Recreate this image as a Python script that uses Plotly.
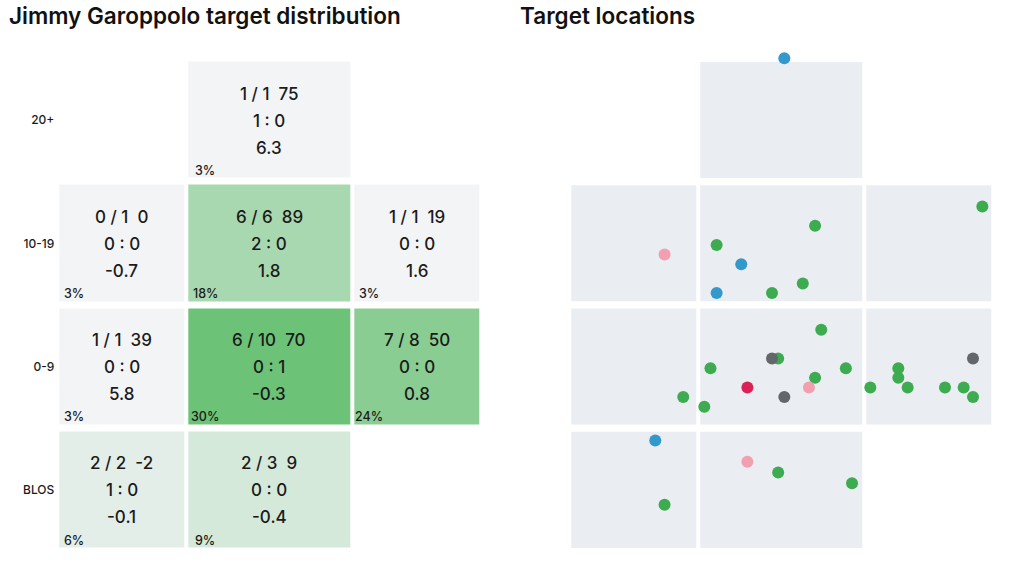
import plotly.graph_objects as go

# ---------------- data ----------------
ROW_LABELS = ["BLOS", "0-9", "10-19", "20+"]          # bottom -> top
# one entry per populated zone
cell_row = ["20+", "10-19", "10-19", "10-19", "0-9", "0-9", "0-9", "BLOS", "BLOS"]
cell_col = [1, 0, 1, 2, 0, 1, 2, 0, 1]                # 0 left, 1 middle, 2 right
completions = [1, 0, 6, 1, 1, 6, 7, 2, 2]
attempts = [1, 1, 6, 1, 1, 10, 8, 2, 3]
yards = [75, 0, 89, 19, 39, 70, 50, -2, 9]
tds = [1, 0, 2, 0, 0, 0, 0, 1, 0]
ints = [0, 0, 0, 0, 0, 1, 0, 0, 0]
epa = [6.3, -0.7, 1.8, 1.6, 5.8, -0.3, 0.8, -0.1, -0.4]
share_pct = [3, 3, 18, 3, 3, 30, 24, 6, 9]

# target locations: yards from left sideline, air yards, outcome
target_x = [27,
            10, 32, 16, 20, 16, 25, 30, 53,
            33, 25, 26, 15, 37, 32, 21, 31, 27, 12, 14, 41, 44, 44, 45, 49, 51, 52, 52,
            9, 10, 21, 26, 38]
target_y = [31.6,
            14, 17, 15, 13, 10, 10, 11, 19,
            9, 6, 6, 5, 5, 4, 3, 3, 2, 2, 1, 3, 5, 4, 3, 3, 3, 2, 6,
            -1, -7, -3, -4, -5]
target_outcome = ["td",
                  "inc", "comp", "comp", "td", "td", "comp", "comp", "comp",
                  "comp", "def", "comp", "comp", "comp", "comp", "int", "inc", "def",
                  "comp", "comp", "comp", "comp", "comp", "comp", "comp", "comp", "comp", "def",
                  "td", "comp", "inc", "comp", "comp"]

OUTCOME_COLORS = {"comp": "#3dab50", "td": "#3399cc", "inc": "#f2a0b0",
                  "def": "#63666b", "int": "#dc1f55"}
OUTCOME_ORDER = ["comp", "td", "inc", "def", "int"]

# zone boundaries (field width in yards, air yards)
X_BOUNDS = [13.33, 40]
Y_BOUNDS = [0, 10, 20]

# ---------------- layout geometry ----------------
W, H = 1024, 585
COL_PX = [129, 166, 129]
ROW_PX = 123.25
GRID_TOP = 58.5
LEFT_X0 = 57.3
RIGHT_X0 = 569.3
XGAP, YGAP = 4, 7
TOP_PAD = 10            # extra room above each location panel for overflowing dots
X_RANGES = [(0, 13.4), (13.35, 39.67), (40.57, 53.96)]
Y_RANGES = [(-11.05, -0.19), (-0.88, 11.2), (9.12, 21.2), (19.12, 31.2)]
FONT = "Inter"
TEXT_COLOR = "#1b1b1b"

xedges = [0]
for w in COL_PX:
    xedges.append(xedges[-1] + w)
ncols = len(COL_PX)
nrows = len(ROW_LABELS)

fig = go.Figure()

# ---- left: distribution heatmap ----
z = [[None] * ncols for _ in range(nrows)]
for r, c, p in zip(cell_row, cell_col, share_pct):
    z[ROW_LABELS.index(r)][c] = p

fig.add_trace(go.Heatmap(
    z=z, x=xedges, y=list(range(nrows + 1)),
    xgap=XGAP, ygap=YGAP, zmin=3, zmax=30,
    colorscale=[[0, "#f3f4f6"], [1, "#6cc276"]],
    showscale=False, hoverinfo="skip", xaxis="x", yaxis="y"))

grid_h = ROW_PX * nrows
fig.update_layout(
    xaxis=dict(domain=[LEFT_X0 / W, (LEFT_X0 + xedges[-1]) / W], range=[0, xedges[-1]],
               visible=False, fixedrange=True),
    yaxis=dict(domain=[1 - (GRID_TOP + grid_h) / H, 1 - GRID_TOP / H], range=[0, nrows],
               tickvals=[i + 0.5 for i in range(nrows)], ticktext=ROW_LABELS,
               showgrid=False, zeroline=False, showline=False, ticks="",
               ticklabelstandoff=2,
               tickfont=dict(family=FONT, size=12, color=TEXT_COLOR, weight=500),
               fixedrange=True),
)

annotations = []
for r, c, cm, at, yd, td, it, e, p in zip(cell_row, cell_col, completions, attempts, yards,
                                          tds, ints, epa, share_pct):
    ri = ROW_LABELS.index(r)
    xc = (xedges[c] + xedges[c + 1]) / 2
    yc = ri + 0.5
    lines = [f"{cm}\u00a0/\u00a0{at}\u00a0\u00a0{yd}", f"{td}\u00a0:\u00a0{it}", f"{e:.1f}"]
    for line, shift in zip(lines, [26.5, -0.5, -27.5]):
        annotations.append(dict(x=xc, y=yc, xref="x", yref="y", text=line, showarrow=False,
                                yshift=shift,
                                font=dict(family=FONT, size=17, color=TEXT_COLOR, weight=500)))
    annotations.append(dict(x=xedges[c], y=ri, xref="x", yref="y", text=f"{p}%",
                            showarrow=False, xanchor="center", yanchor="bottom",
                            xshift=9 + 0.06 * COL_PX[c], yshift=2,
                            font=dict(family=FONT, size=12.5, color=TEXT_COLOR, weight=500)))

# ---- right: target locations ----
def col_of(x):
    return sum(x >= b for b in X_BOUNDS)

def row_of(y):
    return sum(y >= b for b in Y_BOUNDS)

shapes = []
for k, (r, c) in enumerate(zip(cell_row, cell_col), start=2):
    ri = ROW_LABELS.index(r)
    x0 = RIGHT_X0 + xedges[c] + XGAP / 2
    x1 = RIGHT_X0 + xedges[c + 1] - XGAP / 2
    top = GRID_TOP + (nrows - 1 - ri) * ROW_PX + YGAP / 2
    bot = GRID_TOP + (nrows - ri) * ROW_PX - YGAP / 2
    lo, hi = Y_RANGES[ri]
    hi_ext = hi + TOP_PAD * (hi - lo) / (bot - top)
    fig.layout[f"xaxis{k}"] = dict(domain=[x0 / W, x1 / W], range=list(X_RANGES[c]),
                                   visible=False, anchor=f"y{k}", fixedrange=True)
    fig.layout[f"yaxis{k}"] = dict(domain=[1 - bot / H, 1 - (top - TOP_PAD) / H],
                                   range=[lo, hi_ext],
                                   visible=False, anchor=f"x{k}", fixedrange=True)
    shapes.append(dict(type="rect", xref=f"x{k} domain", yref=f"y{k}",
                       x0=0, x1=1, y0=lo, y1=hi, fillcolor="#eaedf1",
                       line=dict(width=0), layer="below"))
    pts = [(x, y, o) for x, y, o in zip(target_x, target_y, target_outcome)
           if col_of(x) == c and row_of(y) == ri]
    pts.sort(key=lambda t: OUTCOME_ORDER.index(t[2]))
    if pts:
        fig.add_trace(go.Scatter(
            x=[p[0] for p in pts], y=[p[1] for p in pts], mode="markers",
            marker=dict(size=12, color=[OUTCOME_COLORS[p[2]] for p in pts], line=dict(width=0)),
            cliponaxis=False, hoverinfo="skip", showlegend=False,
            xaxis=f"x{k}", yaxis=f"y{k}"))

# titles
for txt, px in [("Jimmy Garoppolo target distribution", 7), ("Target locations", 518)]:
    annotations.append(dict(x=px / W, y=1 - 15 / H, xref="paper", yref="paper",
                            text=txt, showarrow=False, xanchor="left", yanchor="middle",
                            font=dict(family=FONT, size=22.5, color="#111111", weight=600)))

fig.update_layout(width=W, height=H, margin=dict(l=0, r=0, t=0, b=0),
                  paper_bgcolor="white", plot_bgcolor="rgba(0,0,0,0)",
                  annotations=annotations, shapes=shapes, showlegend=False)

fig.write_html("out.html")
